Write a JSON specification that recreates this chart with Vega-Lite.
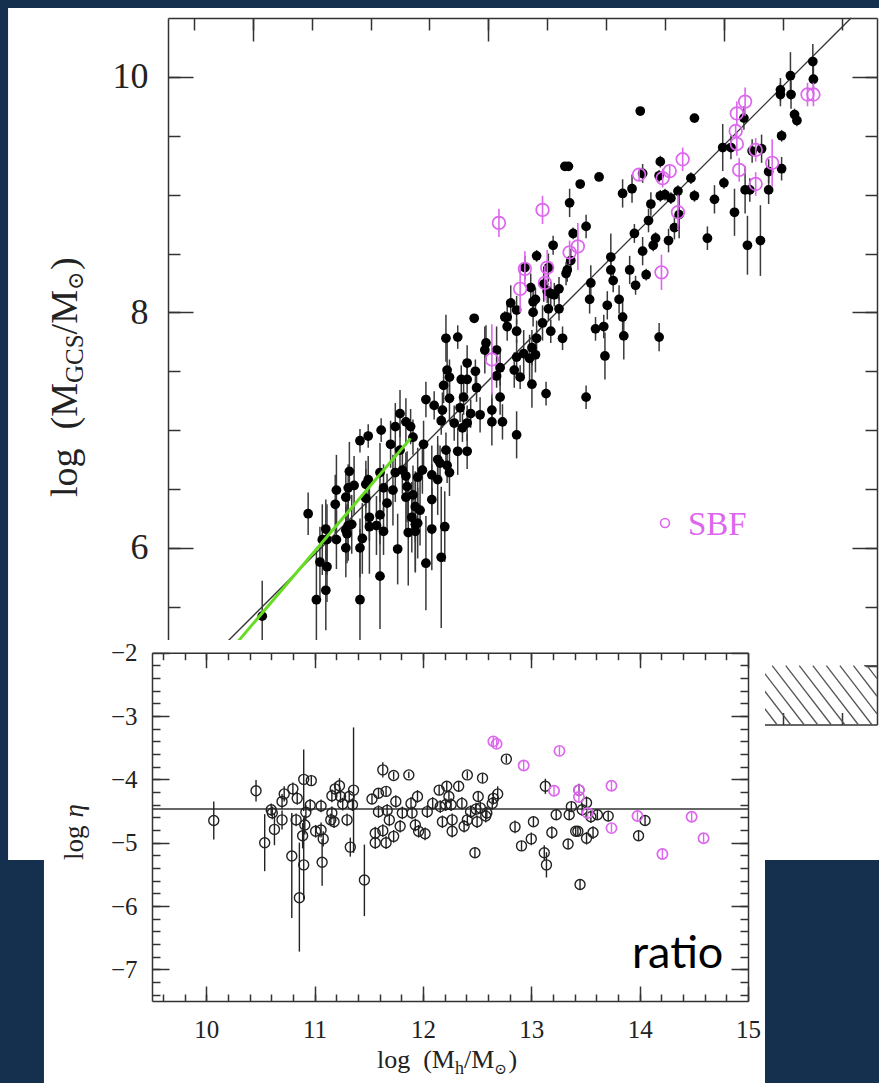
{
"$schema": "https://vega.github.io/schema/vega-lite/v6.json",
"width": 879, "height": 1083, "autosize": {"type": "none"}, "padding": 0,
"background": "white",
"config": {"view": {"stroke": null}, "axis": {"grid": false, "domainColor": "#333333", "domainWidth": 1.5, "tickColor": "#333333", "tickWidth": 1.5, "labelColor": "#222222", "labelFont": "Liberation Serif", "labelOverlap": false, "labelFlush": false}},
"data": {"values": [{}]},
"datasets": {
"tfb": [
{"x":14.755,"y":10.13,"lo":9.98,"hi":10.28},{"x":14.76,"y":9.98,"lo":9.86,"hi":10.1},{"x":14.565,"y":10.01,"lo":9.81,"hi":10.21},{"x":14.48,"y":9.89,"lo":9.79,"hi":9.99},{"x":14.57,"y":9.85,"lo":9.73,"hi":9.97},{"x":14.48,"y":9.85,"lo":9.75,"hi":9.95},{"x":14.6,"y":9.68,"lo":9.63,"hi":9.73},{"x":14.62,"y":9.63,"lo":9.58,"hi":9.68},{"x":14.49,"y":9.5,"lo":9.45,"hi":9.55},{"x":14.49,"y":9.22,"lo":9.12,"hi":9.32},
{"x":14.38,"y":9.195,"lo":9.1,"hi":9.3},{"x":14.38,"y":9.04,"lo":8.92,"hi":9.16},{"x":14.32,"y":9.39,"lo":9.27,"hi":9.51},{"x":14.24,"y":9.37,"lo":9.27,"hi":9.47},{"x":14.22,"y":9.04,"lo":8.94,"hi":9.14},{"x":14.18,"y":9.04,"lo":8.84,"hi":9.24},{"x":14.17,"y":9.65,"lo":9.55,"hi":9.75},{"x":14.06,"y":9.4,"lo":9.3,"hi":9.5},{"x":13.99,"y":9.4,"lo":9.2,"hi":9.6},{"x":14.09,"y":8.85,"lo":8.65,"hi":9.05},
{"x":14.0,"y":9.1,"lo":9.05,"hi":9.15},{"x":13.92,"y":8.96,"lo":8.84,"hi":9.08},{"x":13.75,"y":8.99,"lo":8.94,"hi":9.04},{"x":13.72,"y":9.14,"lo":9.09,"hi":9.19},{"x":13.75,"y":9.65,"lo":9.62,"hi":9.68},{"x":13.86,"y":8.63,"lo":8.53,"hi":8.73},{"x":14.2,"y":8.57,"lo":8.32,"hi":8.82},{"x":14.31,"y":8.61,"lo":8.31,"hi":8.91},{"x":13.61,"y":9.03,"lo":8.98,"hi":9.08},{"x":13.58,"y":8.72,"lo":8.62,"hi":8.82},
{"x":13.46,"y":8.99,"lo":8.94,"hi":9.04},{"x":13.55,"y":8.97,"lo":8.92,"hi":9.02},{"x":13.5,"y":9.0,"lo":8.95,"hi":9.05},{"x":13.62,"y":8.83,"lo":8.63,"hi":9.03},{"x":13.46,"y":9.28,"lo":9.23,"hi":9.33},{"x":13.45,"y":9.16,"lo":9.11,"hi":9.21},{"x":13.53,"y":8.61,"lo":8.51,"hi":8.71},{"x":13.42,"y":8.63,"lo":8.58,"hi":8.68},{"x":13.4,"y":8.57,"lo":8.52,"hi":8.62},{"x":13.38,"y":8.92,"lo":8.82,"hi":9.02},
{"x":13.36,"y":8.78,"lo":8.68,"hi":8.88},{"x":13.31,"y":8.52,"lo":8.4,"hi":8.64},{"x":13.34,"y":8.32,"lo":8.27,"hi":8.37},{"x":13.29,"y":9.71,"lo":9.68,"hi":9.74},{"x":12.65,"y":9.24,"lo":9.21,"hi":9.27},{"x":12.68,"y":9.24,"lo":9.21,"hi":9.27},{"x":12.94,"y":9.15,"lo":9.12,"hi":9.18},{"x":12.78,"y":9.09,"lo":9.06,"hi":9.12},{"x":13.14,"y":9.01,"lo":8.89,"hi":9.13},{"x":13.22,"y":9.05,"lo":8.93,"hi":9.17},
{"x":13.31,"y":9.18,"lo":9.1,"hi":9.26},{"x":12.69,"y":8.93,"lo":8.81,"hi":9.05},{"x":12.83,"y":8.73,"lo":8.63,"hi":8.83},{"x":12.72,"y":8.67,"lo":8.62,"hi":8.72},{"x":12.55,"y":8.57,"lo":8.49,"hi":8.65},{"x":12.41,"y":8.48,"lo":8.43,"hi":8.53},{"x":12.51,"y":8.38,"lo":8.26,"hi":8.5},{"x":12.67,"y":8.36,"lo":8.26,"hi":8.46},{"x":12.7,"y":8.44,"lo":8.34,"hi":8.54},{"x":13.04,"y":8.47,"lo":8.27,"hi":8.67},
{"x":13.04,"y":8.36,"lo":8.26,"hi":8.46},{"x":13.06,"y":8.27,"lo":8.17,"hi":8.37},{"x":13.24,"y":8.67,"lo":8.59,"hi":8.75},{"x":13.2,"y":8.36,"lo":8.24,"hi":8.48},{"x":13.25,"y":8.23,"lo":8.15,"hi":8.31},{"x":12.87,"y":8.25,"lo":8.1,"hi":8.4},{"x":12.86,"y":8.11,"lo":7.99,"hi":8.23},{"x":13.01,"y":8.06,"lo":7.94,"hi":8.18},{"x":13.11,"y":8.11,"lo":7.99,"hi":8.23},{"x":12.36,"y":8.21,"lo":8.09,"hi":8.33},
{"x":12.47,"y":8.24,"lo":8.09,"hi":8.39},{"x":12.66,"y":8.33,"lo":8.23,"hi":8.43},{"x":12.5,"y":8.18,"lo":8.08,"hi":8.28},{"x":12.56,"y":8.15,"lo":8.05,"hi":8.25},{"x":12.6,"y":8.2,"lo":8.1,"hi":8.3},{"x":12.19,"y":8.08,"lo":7.93,"hi":8.23},{"x":12.24,"y":8.02,"lo":7.9,"hi":8.14},{"x":11.88,"y":7.95,"lo":7.92,"hi":7.98},{"x":12.14,"y":7.96,"lo":7.91,"hi":8.01},{"x":12.38,"y":8.09,"lo":7.97,"hi":8.21},
{"x":12.51,"y":8.03,"lo":7.93,"hi":8.13},{"x":12.6,"y":8.03,"lo":7.93,"hi":8.13},{"x":12.31,"y":8.38,"lo":8.28,"hi":8.48},{"x":13.14,"y":7.96,"lo":7.81,"hi":8.11},{"x":12.91,"y":7.86,"lo":7.76,"hi":7.96},{"x":12.98,"y":7.88,"lo":7.78,"hi":7.98},{"x":13.15,"y":7.8,"lo":7.6,"hi":8.0},{"x":12.99,"y":7.63,"lo":7.43,"hi":7.83},{"x":13.45,"y":7.79,"lo":7.67,"hi":7.91},{"x":12.83,"y":7.28,"lo":7.18,"hi":7.38},
{"x":12.49,"y":7.31,"lo":7.21,"hi":7.41},{"x":12.24,"y":6.96,"lo":6.76,"hi":7.16},{"x":12.4,"y":8.11,"lo":8.01,"hi":8.21},{"x":12.53,"y":8.16,"lo":8.06,"hi":8.26},{"x":12.38,"y":8.0,"lo":7.88,"hi":8.12},{"x":12.46,"y":7.91,"lo":7.76,"hi":8.06},{"x":12.16,"y":7.96,"lo":7.84,"hi":8.08},{"x":12.16,"y":7.88,"lo":7.76,"hi":8.0},{"x":12.24,"y":7.84,"lo":7.74,"hi":7.94},{"x":12.41,"y":7.78,"lo":7.63,"hi":7.93},
{"x":12.53,"y":7.84,"lo":7.74,"hi":7.94},{"x":12.63,"y":7.78,"lo":7.68,"hi":7.88},{"x":12.37,"y":7.7,"lo":7.55,"hi":7.85},{"x":12.3,"y":7.65,"lo":7.45,"hi":7.85},{"x":12.4,"y":7.64,"lo":7.49,"hi":7.79},{"x":12.35,"y":7.61,"lo":7.41,"hi":7.81},{"x":12.24,"y":7.62,"lo":7.47,"hi":7.77},{"x":12.22,"y":7.51,"lo":7.36,"hi":7.66},{"x":12.27,"y":7.45,"lo":7.35,"hi":7.55},{"x":12.37,"y":7.39,"lo":7.19,"hi":7.59},
{"x":11.97,"y":7.68,"lo":7.48,"hi":7.88},{"x":12.07,"y":7.68,"lo":7.48,"hi":7.88},{"x":11.98,"y":7.74,"lo":7.59,"hi":7.89},{"x":12.1,"y":7.53,"lo":7.38,"hi":7.68},{"x":12.07,"y":7.46,"lo":7.36,"hi":7.56},{"x":12.1,"y":7.28,"lo":7.13,"hi":7.43},{"x":11.64,"y":7.78,"lo":7.58,"hi":7.98},{"x":11.74,"y":7.79,"lo":7.69,"hi":7.89},{"x":11.82,"y":7.57,"lo":7.42,"hi":7.72},{"x":11.89,"y":7.5,"lo":7.4,"hi":7.6},
{"x":11.65,"y":7.51,"lo":7.26,"hi":7.76},{"x":11.67,"y":7.45,"lo":7.3,"hi":7.6},{"x":11.77,"y":7.43,"lo":7.31,"hi":7.55},{"x":11.82,"y":7.43,"lo":7.31,"hi":7.55},{"x":11.62,"y":7.38,"lo":7.23,"hi":7.53},{"x":11.9,"y":7.36,"lo":7.24,"hi":7.48},{"x":11.47,"y":7.26,"lo":7.11,"hi":7.41},{"x":11.54,"y":7.21,"lo":7.09,"hi":7.33},{"x":11.67,"y":7.27,"lo":7.07,"hi":7.47},{"x":11.79,"y":7.28,"lo":7.13,"hi":7.43},
{"x":11.61,"y":7.17,"lo":7.02,"hi":7.32},{"x":11.76,"y":7.19,"lo":7.07,"hi":7.31},{"x":11.85,"y":7.14,"lo":7.02,"hi":7.26},{"x":11.93,"y":7.13,"lo":6.98,"hi":7.28},{"x":12.03,"y":7.17,"lo":7.02,"hi":7.32},{"x":11.6,"y":7.08,"lo":6.96,"hi":7.2},{"x":11.71,"y":7.06,"lo":6.91,"hi":7.21},{"x":11.82,"y":7.06,"lo":6.91,"hi":7.21},{"x":12.03,"y":7.07,"lo":6.87,"hi":7.27},{"x":12.12,"y":7.07,"lo":6.92,"hi":7.22},
{"x":11.78,"y":7.02,"lo":6.9,"hi":7.14},{"x":11.45,"y":6.88,"lo":6.68,"hi":7.08},{"x":11.64,"y":6.83,"lo":6.68,"hi":6.98},{"x":11.74,"y":6.82,"lo":6.62,"hi":7.02},{"x":11.82,"y":6.82,"lo":6.67,"hi":6.97},{"x":11.59,"y":6.72,"lo":6.57,"hi":6.87},{"x":11.65,"y":6.7,"lo":6.55,"hi":6.85},{"x":11.67,"y":6.64,"lo":6.44,"hi":6.84},{"x":10.08,"y":5.42,"lo":4.9,"hi":5.72},{"x":10.47,"y":6.29,"lo":6.11,"hi":6.47},
{"x":10.54,"y":5.56,"lo":5.1,"hi":6.0},{"x":10.62,"y":5.64,"lo":5.3,"hi":5.98},{"x":10.57,"y":5.88,"lo":5.58,"hi":6.18},{"x":10.63,"y":5.84,"lo":5.54,"hi":6.14},{"x":10.62,"y":6.16,"lo":5.91,"hi":6.41},{"x":10.59,"y":6.07,"lo":5.77,"hi":6.37},{"x":10.63,"y":6.07,"lo":5.77,"hi":6.37},{"x":10.71,"y":6.07,"lo":5.82,"hi":6.32},{"x":10.79,"y":6.0,"lo":5.75,"hi":6.25},{"x":10.79,"y":6.15,"lo":5.95,"hi":6.35},
{"x":10.81,"y":6.19,"lo":5.89,"hi":6.49},{"x":10.84,"y":6.2,"lo":5.95,"hi":6.45},{"x":10.8,"y":6.12,"lo":5.87,"hi":6.37},{"x":10.91,"y":6.0,"lo":5.75,"hi":6.25},{"x":10.93,"y":6.08,"lo":5.78,"hi":6.38},{"x":10.91,"y":5.56,"lo":4.96,"hi":6.16},{"x":11.08,"y":5.76,"lo":5.31,"hi":6.21},{"x":10.99,"y":6.18,"lo":5.78,"hi":6.58},{"x":10.99,"y":6.26,"lo":6.06,"hi":6.46},{"x":11.05,"y":6.19,"lo":5.94,"hi":6.44},
{"x":11.11,"y":6.14,"lo":5.94,"hi":6.34},{"x":11.08,"y":6.28,"lo":6.03,"hi":6.53},{"x":11.23,"y":5.99,"lo":5.69,"hi":6.29},{"x":11.32,"y":6.13,"lo":5.68,"hi":6.58},{"x":11.38,"y":6.2,"lo":5.8,"hi":6.6},{"x":11.47,"y":5.87,"lo":5.47,"hi":6.27},{"x":11.52,"y":6.16,"lo":5.81,"hi":6.51},{"x":11.6,"y":5.92,"lo":5.32,"hi":6.52},{"x":10.7,"y":6.37,"lo":6.12,"hi":6.62},{"x":10.71,"y":6.49,"lo":6.19,"hi":6.79},
{"x":10.79,"y":6.43,"lo":6.23,"hi":6.63},{"x":10.81,"y":6.51,"lo":6.31,"hi":6.71},{"x":10.82,"y":6.65,"lo":6.4,"hi":6.9},{"x":10.86,"y":6.53,"lo":6.28,"hi":6.78},{"x":10.96,"y":6.54,"lo":6.34,"hi":6.74},{"x":10.98,"y":6.58,"lo":6.38,"hi":6.78},{"x":10.96,"y":6.42,"lo":6.17,"hi":6.67},{"x":11.08,"y":6.64,"lo":6.39,"hi":6.89},{"x":11.11,"y":6.51,"lo":6.31,"hi":6.71},{"x":11.14,"y":6.38,"lo":6.13,"hi":6.63},
{"x":11.19,"y":6.49,"lo":6.19,"hi":6.79},{"x":11.21,"y":6.64,"lo":6.39,"hi":6.89},{"x":11.27,"y":6.66,"lo":6.46,"hi":6.86},{"x":11.3,"y":6.61,"lo":6.41,"hi":6.81},{"x":11.31,"y":6.52,"lo":6.22,"hi":6.82},{"x":11.36,"y":6.45,"lo":6.2,"hi":6.7},{"x":11.38,"y":6.35,"lo":6.05,"hi":6.65},{"x":11.42,"y":6.32,"lo":6.02,"hi":6.62},{"x":11.3,"y":6.43,"lo":6.13,"hi":6.73},{"x":11.35,"y":6.26,"lo":5.96,"hi":6.56},
{"x":11.4,"y":6.21,"lo":5.91,"hi":6.51},{"x":11.38,"y":6.14,"lo":5.79,"hi":6.49},{"x":10.91,"y":6.91,"lo":6.81,"hi":7.01},{"x":10.98,"y":6.95,"lo":6.85,"hi":7.05},{"x":11.09,"y":7.0,"lo":6.9,"hi":7.1},{"x":11.25,"y":7.14,"lo":6.94,"hi":7.34},{"x":11.3,"y":7.07,"lo":6.87,"hi":7.27},{"x":11.21,"y":7.03,"lo":6.83,"hi":7.23},{"x":11.34,"y":7.03,"lo":6.88,"hi":7.18},{"x":11.17,"y":6.88,"lo":6.68,"hi":7.08},
{"x":11.25,"y":6.83,"lo":6.63,"hi":7.03},{"x":11.36,"y":6.94,"lo":6.79,"hi":7.09},{"x":11.44,"y":6.66,"lo":6.46,"hi":6.86},{"x":11.4,"y":6.6,"lo":6.35,"hi":6.85},{"x":11.52,"y":6.62,"lo":6.37,"hi":6.87},{"x":11.57,"y":6.75,"lo":6.55,"hi":6.95},{"x":11.57,"y":6.58,"lo":6.28,"hi":6.88},{"x":11.52,"y":6.41,"lo":6.11,"hi":6.71},{"x":11.63,"y":6.18,"lo":5.88,"hi":6.48}
],
"tfm": [
{"x":14.71,"y":9.85,"lo":9.75,"hi":9.95},{"x":14.76,"y":9.85,"lo":9.75,"hi":9.95},{"x":14.18,"y":9.79,"lo":9.67,"hi":9.91},{"x":14.11,"y":9.69,"lo":9.59,"hi":9.79},{"x":14.1,"y":9.54,"lo":9.49,"hi":9.59},{"x":14.11,"y":9.43,"lo":9.33,"hi":9.53},{"x":14.27,"y":9.38,"lo":9.28,"hi":9.48},{"x":14.13,"y":9.21,"lo":9.11,"hi":9.31},{"x":14.41,"y":9.27,"lo":9.07,"hi":9.47},{"x":14.27,"y":9.09,"lo":8.99,"hi":9.19},
{"x":13.65,"y":9.3,"lo":9.2,"hi":9.4},{"x":13.54,"y":9.2,"lo":9.15,"hi":9.25},{"x":13.48,"y":9.14,"lo":9.06,"hi":9.22},{"x":13.61,"y":8.85,"lo":8.7,"hi":9.0},{"x":13.47,"y":8.34,"lo":8.19,"hi":8.49},{"x":12.09,"y":8.76,"lo":8.64,"hi":8.88},{"x":12.46,"y":8.87,"lo":8.75,"hi":8.99},{"x":13.28,"y":9.17,"lo":9.12,"hi":9.22},{"x":12.76,"y":8.56,"lo":8.36,"hi":8.76},{"x":12.69,"y":8.51,"lo":8.41,"hi":8.61},
{"x":12.31,"y":8.37,"lo":8.22,"hi":8.52},{"x":12.5,"y":8.38,"lo":8.23,"hi":8.53},{"x":12.48,"y":8.25,"lo":8.1,"hi":8.4},{"x":12.27,"y":8.2,"lo":8.0,"hi":8.4},{"x":12.03,"y":7.6,"lo":7.3,"hi":7.9}
],
"bfb": [
{"x":10.07,"y":-4.65,"lo":-4.95,"hi":-4.35},{"x":10.46,"y":-4.18,"lo":-4.35,"hi":-4.01},{"x":10.6,"y":-4.48,"lo":-4.58,"hi":-4.38},{"x":10.61,"y":-4.53,"lo":-4.63,"hi":-4.43},{"x":10.63,"y":-4.79,"lo":-5.04,"hi":-4.54},{"x":10.54,"y":-5.0,"lo":-5.45,"hi":-4.55},{"x":10.7,"y":-4.35,"lo":-4.47,"hi":-4.23},{"x":10.72,"y":-4.23,"lo":-4.35,"hi":-4.11},{"x":10.7,"y":-4.64,"lo":-4.79,"hi":-4.49},{"x":10.79,"y":-5.21,"lo":-6.19,"hi":-4.53},
{"x":10.8,"y":-4.15,"lo":-4.25,"hi":-4.05},{"x":10.83,"y":-4.64,"lo":-4.74,"hi":-4.54},{"x":10.84,"y":-4.3,"lo":-4.4,"hi":-4.2},{"x":10.86,"y":-5.87,"lo":-6.72,"hi":-5.0},{"x":10.9,"y":-4.0,"lo":-4.5,"hi":-3.53},{"x":10.97,"y":-4.02,"lo":-4.1,"hi":-3.94},{"x":10.96,"y":-4.41,"lo":-4.51,"hi":-4.31},{"x":10.92,"y":-4.52,"lo":-4.64,"hi":-4.4},{"x":10.91,"y":-4.72,"lo":-4.87,"hi":-4.57},{"x":10.89,"y":-4.89,"lo":-5.09,"hi":-4.69},
{"x":10.9,"y":-5.35,"lo":-5.9,"hi":-4.6},{"x":11.01,"y":-4.82,"lo":-4.92,"hi":-4.72},{"x":11.06,"y":-4.8,"lo":-4.92,"hi":-4.68},{"x":11.06,"y":-4.42,"lo":-4.52,"hi":-4.32},{"x":11.08,"y":-4.94,"lo":-5.06,"hi":-4.82},{"x":11.07,"y":-5.31,"lo":-5.68,"hi":-4.94},{"x":11.16,"y":-4.26,"lo":-4.36,"hi":-4.16},{"x":11.16,"y":-4.53,"lo":-4.63,"hi":-4.43},{"x":11.15,"y":-4.64,"lo":-4.74,"hi":-4.54},{"x":11.18,"y":-4.67,"lo":-4.77,"hi":-4.57},
{"x":11.19,"y":-4.15,"lo":-4.25,"hi":-4.05},{"x":11.23,"y":-4.1,"lo":-4.22,"hi":-3.98},{"x":11.24,"y":-4.27,"lo":-4.37,"hi":-4.17},{"x":11.26,"y":-4.39,"lo":-4.49,"hi":-4.29},{"x":11.32,"y":-4.27,"lo":-4.37,"hi":-4.17},{"x":11.3,"y":-4.64,"lo":-4.74,"hi":-4.54},{"x":11.33,"y":-5.07,"lo":-5.22,"hi":-4.92},{"x":11.35,"y":-4.4,"lo":-4.5,"hi":-4.3},{"x":11.36,"y":-4.17,"lo":-5.16,"hi":-3.18},{"x":11.46,"y":-5.59,"lo":-6.16,"hi":-5.03},
{"x":11.53,"y":-4.31,"lo":-4.39,"hi":-4.23},{"x":11.59,"y":-4.22,"lo":-4.3,"hi":-4.14},{"x":11.66,"y":-4.19,"lo":-4.27,"hi":-4.11},{"x":11.63,"y":-3.85,"lo":-3.97,"hi":-3.73},{"x":11.73,"y":-3.94,"lo":-4.0,"hi":-3.88},{"x":11.87,"y":-3.93,"lo":-3.98,"hi":-3.88},{"x":11.59,"y":-4.51,"lo":-4.61,"hi":-4.41},{"x":11.56,"y":-4.85,"lo":-4.95,"hi":-4.75},{"x":11.56,"y":-5.0,"lo":-5.1,"hi":-4.9},{"x":11.66,"y":-5.0,"lo":-5.1,"hi":-4.9},
{"x":11.63,"y":-4.81,"lo":-4.91,"hi":-4.71},{"x":11.67,"y":-4.49,"lo":-4.59,"hi":-4.39},{"x":11.69,"y":-4.64,"lo":-4.74,"hi":-4.54},{"x":11.73,"y":-4.9,"lo":-5.0,"hi":-4.8},{"x":11.75,"y":-4.35,"lo":-4.45,"hi":-4.25},{"x":11.79,"y":-4.74,"lo":-4.84,"hi":-4.64},{"x":11.81,"y":-4.53,"lo":-4.63,"hi":-4.43},{"x":11.9,"y":-4.53,"lo":-4.63,"hi":-4.43},{"x":11.89,"y":-4.38,"lo":-4.48,"hi":-4.28},{"x":11.95,"y":-4.27,"lo":-4.37,"hi":-4.17},
{"x":11.93,"y":-4.72,"lo":-4.82,"hi":-4.62},{"x":11.96,"y":-4.82,"lo":-4.92,"hi":-4.72},{"x":12.02,"y":-4.86,"lo":-4.96,"hi":-4.76},{"x":12.04,"y":-4.51,"lo":-4.61,"hi":-4.41},{"x":12.09,"y":-4.38,"lo":-4.48,"hi":-4.28},{"x":12.15,"y":-4.17,"lo":-4.25,"hi":-4.09},{"x":12.16,"y":-4.43,"lo":-4.53,"hi":-4.33},{"x":12.18,"y":-4.67,"lo":-4.77,"hi":-4.57},{"x":12.22,"y":-4.11,"lo":-4.19,"hi":-4.03},{"x":12.33,"y":-4.11,"lo":-4.19,"hi":-4.03},
{"x":12.41,"y":-3.93,"lo":-3.99,"hi":-3.87},{"x":12.55,"y":-3.98,"lo":-4.06,"hi":-3.9},{"x":12.24,"y":-4.27,"lo":-4.37,"hi":-4.17},{"x":12.21,"y":-4.4,"lo":-4.5,"hi":-4.3},{"x":12.26,"y":-4.4,"lo":-4.5,"hi":-4.3},{"x":12.36,"y":-4.38,"lo":-4.48,"hi":-4.28},{"x":12.44,"y":-4.51,"lo":-4.61,"hi":-4.41},{"x":12.49,"y":-4.47,"lo":-4.57,"hi":-4.37},{"x":12.53,"y":-4.45,"lo":-4.55,"hi":-4.35},{"x":12.59,"y":-4.53,"lo":-4.63,"hi":-4.43},
{"x":12.51,"y":-4.27,"lo":-4.35,"hi":-4.19},{"x":12.65,"y":-4.3,"lo":-4.4,"hi":-4.2},{"x":12.69,"y":-4.23,"lo":-4.35,"hi":-4.11},{"x":12.64,"y":-4.38,"lo":-4.48,"hi":-4.28},{"x":12.27,"y":-4.64,"lo":-4.74,"hi":-4.54},{"x":12.27,"y":-4.82,"lo":-4.92,"hi":-4.72},{"x":12.38,"y":-4.74,"lo":-4.84,"hi":-4.64},{"x":12.41,"y":-4.64,"lo":-4.74,"hi":-4.54},{"x":12.5,"y":-4.67,"lo":-4.77,"hi":-4.57},{"x":12.58,"y":-4.58,"lo":-4.68,"hi":-4.48},
{"x":12.48,"y":-5.16,"lo":-5.24,"hi":-5.08},{"x":12.77,"y":-3.68,"lo":-3.74,"hi":-3.62},{"x":12.85,"y":-4.75,"lo":-4.85,"hi":-4.65},{"x":13.02,"y":-4.67,"lo":-4.75,"hi":-4.59},{"x":13.0,"y":-4.94,"lo":-5.04,"hi":-4.84},{"x":12.91,"y":-5.05,"lo":-5.13,"hi":-4.97},{"x":13.13,"y":-4.11,"lo":-4.23,"hi":-3.99},{"x":13.12,"y":-5.16,"lo":-5.28,"hi":-5.04},{"x":13.14,"y":-5.35,"lo":-5.55,"hi":-5.15},{"x":13.19,"y":-4.84,"lo":-4.94,"hi":-4.74},
{"x":13.23,"y":-4.56,"lo":-4.64,"hi":-4.48},{"x":13.35,"y":-4.56,"lo":-4.64,"hi":-4.48},{"x":13.34,"y":-5.02,"lo":-5.1,"hi":-4.94},{"x":13.37,"y":-4.43,"lo":-4.51,"hi":-4.35},{"x":13.41,"y":-4.82,"lo":-4.9,"hi":-4.74},{"x":13.43,"y":-4.82,"lo":-4.9,"hi":-4.74},{"x":13.44,"y":-4.17,"lo":-4.27,"hi":-4.07},{"x":13.45,"y":-5.66,"lo":-5.74,"hi":-5.58},{"x":13.47,"y":-4.48,"lo":-4.58,"hi":-4.38},{"x":13.51,"y":-4.37,"lo":-4.47,"hi":-4.27},
{"x":13.51,"y":-4.93,"lo":-5.03,"hi":-4.83},{"x":13.57,"y":-4.84,"lo":-4.94,"hi":-4.74},{"x":13.55,"y":-4.59,"lo":-4.69,"hi":-4.49},{"x":13.61,"y":-4.56,"lo":-4.64,"hi":-4.48},{"x":13.71,"y":-4.58,"lo":-4.66,"hi":-4.5},{"x":13.99,"y":-4.89,"lo":-4.97,"hi":-4.81},{"x":14.05,"y":-4.65,"lo":-4.73,"hi":-4.57}
],
"bfm": [
{"x":12.65,"y":-3.4,"lo":-3.47,"hi":-3.33},{"x":12.68,"y":-3.44,"lo":-3.51,"hi":-3.37},{"x":12.93,"y":-3.78,"lo":-3.85,"hi":-3.71},{"x":13.26,"y":-3.55,"lo":-3.62,"hi":-3.48},{"x":13.21,"y":-4.18,"lo":-4.25,"hi":-4.11},{"x":13.44,"y":-4.17,"lo":-4.24,"hi":-4.1},{"x":13.44,"y":-4.28,"lo":-4.35,"hi":-4.21},{"x":13.52,"y":-4.53,"lo":-4.6,"hi":-4.46},{"x":13.74,"y":-4.1,"lo":-4.17,"hi":-4.03},{"x":13.74,"y":-4.77,"lo":-4.84,"hi":-4.7},
{"x":13.98,"y":-4.58,"lo":-4.65,"hi":-4.51},{"x":14.21,"y":-5.18,"lo":-5.25,"hi":-5.11},{"x":14.48,"y":-4.59,"lo":-4.66,"hi":-4.52},{"x":14.59,"y":-4.93,"lo":-5.0,"hi":-4.86}
],
"hatch": [
{"x":13.95,"y":5.0,"x2":14.335,"y2":4.5},{"x":14.065,"y":5.0,"x2":14.45,"y2":4.5},{"x":14.18,"y":5.0,"x2":14.565,"y2":4.5},{"x":14.295,"y":5.0,"x2":14.68,"y2":4.5},{"x":14.41,"y":5.0,"x2":14.795,"y2":4.5},{"x":14.525,"y":5.0,"x2":14.91,"y2":4.5},{"x":14.64,"y":5.0,"x2":15.025,"y2":4.5},{"x":14.755,"y":5.0,"x2":15.14,"y2":4.5},{"x":14.87,"y":5.0,"x2":15.255,"y2":4.5},{"x":14.985,"y":5.0,"x2":15.3,"y2":4.59},{"x":15.1,"y":5.0,"x2":15.3,"y2":4.74},{"x":15.215,"y":5.0,"x2":15.3,"y2":4.89}
],
"fit": [{"x":9.5,"y":4.92},{"x":15.08,"y":10.5}],
"green": [{"x":9.7,"y":5.0},{"x":11.34,"y":6.93}]
},
"resolve": {"scale": {"x": "independent", "y": "independent"}, "axis": {"x": "independent", "y": "independent"}},
"layer": [
{"mark": {"type": "rect", "color": "#15304f"},
 "encoding": {
  "x": {"datum": 7.5, "type": "quantitative", "scale": {"domain": [9.28, 15.3], "range": [168, 877], "nice": false, "zero": false}, "axis": {"orient": "top", "offset": -18, "values": [10, 12, 14], "tickSize": -23, "labels": false, "domain": true, "zindex": 0, "title": null}},
  "x2": {"datum": 15.6},
  "y": {"datum": 10.585, "type": "quantitative", "scale": {"domain": [4.5, 10.5], "range": [724.5, 18], "nice": false, "zero": false}, "axis": {"orient": "left", "offset": -168, "values": [6, 8, 10], "tickSize": -25, "labelPadding": 45, "labelFontSize": 36, "domain": true, "zindex": 0, "title": null}},
  "y2": {"datum": 11}}},
{"mark": {"type": "rect", "color": "#15304f"},
 "encoding": {
  "x": {"datum": 7.5, "type": "quantitative", "scale": {"domain": [9.28, 15.3], "range": [168, 877], "nice": false, "zero": false}, "axis": {"orient": "top", "offset": -18, "values": [9.5, 10, 10.5, 11, 11.5, 12, 12.5, 13, 13.5, 14, 14.5, 15], "tickSize": -12, "labels": false, "domain": false, "zindex": 0, "title": null}},
  "x2": {"datum": 7.922},
  "y": {"datum": 3.349, "type": "quantitative", "scale": {"domain": [4.5, 10.5], "range": [724.5, 18], "nice": false, "zero": false}, "axis": {"orient": "left", "offset": -168, "values": [5, 5.5, 6, 6.5, 7, 7.5, 8, 8.5, 9, 9.5, 10], "tickSize": -12, "labels": false, "domain": false, "zindex": 0, "title": null}},
  "y2": {"datum": 11}}},
{"mark": {"type": "rect", "color": "#15304f"},
 "encoding": {
  "x": {"datum": 7.5, "type": "quantitative", "scale": {"domain": [9.28, 15.3], "range": [168, 877], "nice": false, "zero": false}, "axis": {"orient": "bottom", "offset": -358.5, "values": [10, 12, 14], "tickSize": -23, "labels": false, "domain": true, "zindex": 0, "title": null}},
  "x2": {"datum": 8.227},
  "y": {"datum": 1.0, "type": "quantitative", "scale": {"domain": [4.5, 10.5], "range": [724.5, 18], "nice": false, "zero": false}, "axis": {"orient": "right", "offset": -2, "values": [6, 8, 10], "tickSize": -25, "labels": false, "domain": true, "zindex": 0, "title": null}},
  "y2": {"datum": 3.349}}},
{"mark": {"type": "rect", "color": "#15304f"},
 "encoding": {
  "x": {"datum": 14.349, "type": "quantitative", "scale": {"domain": [9.28, 15.3], "range": [168, 877], "nice": false, "zero": false}, "axis": {"orient": "bottom", "offset": -358.5, "values": [9.5, 10, 10.5, 11, 11.5, 12, 12.5, 13, 13.5, 14, 14.5, 15], "tickSize": -12, "labels": false, "domain": false, "zindex": 0, "title": null}},
  "x2": {"datum": 15.6},
  "y": {"datum": 1.0, "type": "quantitative", "scale": {"domain": [4.5, 10.5], "range": [724.5, 18], "nice": false, "zero": false}, "axis": {"orient": "right", "offset": -2, "values": [5, 5.5, 6, 6.5, 7, 7.5, 8, 8.5, 9, 9.5, 10], "tickSize": -12, "labels": false, "domain": false, "zindex": 0, "title": null}},
  "y2": {"datum": 3.349}}},
{"data": {"name": "hatch"}, "mark": {"type": "rule", "color": "#555555", "strokeWidth": 1.3},
 "encoding": {
  "x": {"field": "x", "type": "quantitative", "scale": {"domain": [9.28, 15.3], "range": [168, 877], "nice": false, "zero": false}, "axis": null},
  "x2": {"field": "x2"},
  "y": {"field": "y", "type": "quantitative", "scale": {"domain": [4.5, 10.5], "range": [724.5, 18], "nice": false, "zero": false}, "axis": null},
  "y2": {"field": "y2"}}},
{"mark": {"type": "rule", "color": "#555555", "strokeWidth": 1.3},
 "encoding": {
  "x": {"datum": 15.19, "type": "quantitative", "scale": {"domain": [9.28, 15.3], "range": [168, 877], "nice": false, "zero": false}, "axis": null},
  "x2": {"datum": 15.3},
  "y": {"datum": 5.0, "type": "quantitative", "scale": {"domain": [4.5, 10.5], "range": [724.5, 18], "nice": false, "zero": false}, "axis": null}}},
{"data": {"name": "tfb"}, "mark": {"type": "rule", "color": "#3a3a3a", "strokeWidth": 1.5},
 "encoding": {
  "x": {"field": "x", "type": "quantitative", "scale": {"domain": [9.28, 15.3], "range": [168, 877], "nice": false, "zero": false}, "axis": null},
  "y": {"field": "lo", "type": "quantitative", "scale": {"domain": [4.5, 10.5], "range": [724.5, 18], "nice": false, "zero": false}, "axis": null},
  "y2": {"field": "hi"}}},
{"data": {"name": "fit"}, "mark": {"type": "line", "color": "#333333", "strokeWidth": 1.3},
 "encoding": {
  "x": {"field": "x", "type": "quantitative", "scale": {"domain": [9.28, 15.3], "range": [168, 877], "nice": false, "zero": false}, "axis": null},
  "y": {"field": "y", "type": "quantitative", "scale": {"domain": [4.5, 10.5], "range": [724.5, 18], "nice": false, "zero": false}, "axis": null}}},
{"data": {"name": "tfb"}, "mark": {"type": "circle", "color": "#000000", "opacity": 1, "size": 95},
 "encoding": {
  "x": {"field": "x", "type": "quantitative", "scale": {"domain": [9.28, 15.3], "range": [168, 877], "nice": false, "zero": false}, "axis": null},
  "y": {"field": "y", "type": "quantitative", "scale": {"domain": [4.5, 10.5], "range": [724.5, 18], "nice": false, "zero": false}, "axis": null}}},
{"data": {"name": "tfm"}, "mark": {"type": "rule", "color": "#dd66ee", "strokeWidth": 1.6},
 "encoding": {
  "x": {"field": "x", "type": "quantitative", "scale": {"domain": [9.28, 15.3], "range": [168, 877], "nice": false, "zero": false}, "axis": null},
  "y": {"field": "lo", "type": "quantitative", "scale": {"domain": [4.5, 10.5], "range": [724.5, 18], "nice": false, "zero": false}, "axis": null},
  "y2": {"field": "hi"}}},
{"data": {"name": "tfm"}, "mark": {"type": "point", "shape": "circle", "filled": false, "color": "#dd66ee", "opacity": 1, "size": 160, "strokeWidth": 1.7},
 "encoding": {
  "x": {"field": "x", "type": "quantitative", "scale": {"domain": [9.28, 15.3], "range": [168, 877], "nice": false, "zero": false}, "axis": null},
  "y": {"field": "y", "type": "quantitative", "scale": {"domain": [4.5, 10.5], "range": [724.5, 18], "nice": false, "zero": false}, "axis": null}}},
{"data": {"name": "green"}, "mark": {"type": "line", "color": "#66dd22", "strokeWidth": 3},
 "encoding": {
  "x": {"field": "x", "type": "quantitative", "scale": {"domain": [9.28, 15.3], "range": [168, 877], "nice": false, "zero": false}, "axis": null},
  "y": {"field": "y", "type": "quantitative", "scale": {"domain": [4.5, 10.5], "range": [724.5, 18], "nice": false, "zero": false}, "axis": null}}},
{"mark": {"type": "point", "shape": "circle", "filled": false, "color": "#dd66ee", "opacity": 1, "size": 80, "strokeWidth": 1.6},
 "encoding": {
  "x": {"datum": 13.5, "type": "quantitative", "scale": {"domain": [9.28, 15.3], "range": [168, 877], "nice": false, "zero": false}, "axis": null},
  "y": {"datum": 6.211, "type": "quantitative", "scale": {"domain": [4.5, 10.5], "range": [724.5, 18], "nice": false, "zero": false}, "axis": null}}},
{"mark": {"type": "text", "text": "SBF", "font": "Liberation Serif", "fontSize": 33, "color": "#dd66ee", "align": "left", "baseline": "alphabetic"},
 "encoding": {
  "x": {"datum": 13.695, "type": "quantitative", "scale": {"domain": [9.28, 15.3], "range": [168, 877], "nice": false, "zero": false}, "axis": null},
  "y": {"datum": 6.109, "type": "quantitative", "scale": {"domain": [4.5, 10.5], "range": [724.5, 18], "nice": false, "zero": false}, "axis": null}}},
{"mark": {"type": "text", "text": "log\u00a0\u00a0(M", "font": "Liberation Serif", "fontSize": 38, "color": "#222222", "align": "left", "baseline": "alphabetic", "angle": 270},
 "encoding": {
  "x": {"datum": 8.507, "type": "quantitative", "scale": {"domain": [9.28, 15.3], "range": [168, 877], "nice": false, "zero": false}, "axis": null},
  "y": {"datum": 6.432, "type": "quantitative", "scale": {"domain": [4.5, 10.5], "range": [724.5, 18], "nice": false, "zero": false}, "axis": null}}},
{"mark": {"type": "text", "text": "GCS", "font": "Liberation Serif", "fontSize": 25, "color": "#222222", "align": "left", "baseline": "alphabetic", "angle": 270},
 "encoding": {
  "x": {"datum": 8.558, "type": "quantitative", "scale": {"domain": [9.28, 15.3], "range": [168, 877], "nice": false, "zero": false}, "axis": null},
  "y": {"datum": 7.4, "type": "quantitative", "scale": {"domain": [4.5, 10.5], "range": [724.5, 18], "nice": false, "zero": false}, "axis": null}}},
{"mark": {"type": "text", "text": "/M", "font": "Liberation Serif", "fontSize": 38, "color": "#222222", "align": "left", "baseline": "alphabetic", "angle": 270},
 "encoding": {
  "x": {"datum": 8.507, "type": "quantitative", "scale": {"domain": [9.28, 15.3], "range": [168, 877], "nice": false, "zero": false}, "axis": null},
  "y": {"datum": 7.813, "type": "quantitative", "scale": {"domain": [4.5, 10.5], "range": [724.5, 18], "nice": false, "zero": false}, "axis": null}}},
{"mark": {"type": "text", "text": "⊙", "font": "DejaVu Serif", "fontSize": 22, "color": "#222222", "align": "left", "baseline": "alphabetic", "angle": 270},
 "encoding": {
  "x": {"datum": 8.558, "type": "quantitative", "scale": {"domain": [9.28, 15.3], "range": [168, 877], "nice": false, "zero": false}, "axis": null},
  "y": {"datum": 8.189, "type": "quantitative", "scale": {"domain": [4.5, 10.5], "range": [724.5, 18], "nice": false, "zero": false}, "axis": null}}},
{"mark": {"type": "text", "text": ")", "font": "Liberation Serif", "fontSize": 38, "color": "#222222", "align": "left", "baseline": "alphabetic", "angle": 270},
 "encoding": {
  "x": {"datum": 8.507, "type": "quantitative", "scale": {"domain": [9.28, 15.3], "range": [168, 877], "nice": false, "zero": false}, "axis": null},
  "y": {"datum": 8.36, "type": "quantitative", "scale": {"domain": [4.5, 10.5], "range": [724.5, 18], "nice": false, "zero": false}, "axis": null}}},
{"mark": {"type": "rect", "color": "#ffffff"},
 "encoding": {
  "x": {"datum": 8.227, "type": "quantitative", "scale": {"domain": [9.28, 15.3], "range": [168, 877], "nice": false, "zero": false}, "axis": null},
  "x2": {"datum": 14.349},
  "y": {"datum": 1.0, "type": "quantitative", "scale": {"domain": [4.5, 10.5], "range": [724.5, 18], "nice": false, "zero": false}, "axis": null},
  "y2": {"datum": 5.218}}},
{"mark": {"type": "rule", "color": "#333333", "strokeWidth": 1.5},
 "encoding": {
  "x": {"datum": 9.5, "type": "quantitative", "scale": {"domain": [9.5, 15], "range": [152, 748], "nice": false, "zero": false}, "axis": null},
  "x2": {"datum": 15},
  "y": {"datum": -4.47, "type": "quantitative", "scale": {"domain": [-7.5, -2], "range": [1001, 652.7], "nice": false, "zero": false}, "axis": null}}},
{"data": {"name": "bfb"}, "mark": {"type": "rule", "color": "#222222", "strokeWidth": 1.4},
 "encoding": {
  "x": {"field": "x", "type": "quantitative", "scale": {"domain": [9.5, 15], "range": [152, 748], "nice": false, "zero": false}, "axis": {"orient": "bottom", "offset": -82, "values": [10, 11, 12, 13, 14, 15], "tickSize": -15, "labelPadding": 31, "labelFontSize": 25, "domain": true, "zindex": 1, "title": null}},
  "y": {"field": "lo", "type": "quantitative", "scale": {"domain": [-7.5, -2], "range": [1001, 652.7], "nice": false, "zero": false}, "axis": {"orient": "left", "offset": -152, "values": [-7, -6, -5, -4, -3, -2], "tickSize": -17, "labelPadding": 32, "labelFontSize": 25, "domain": true, "zindex": 1, "title": null}},
  "y2": {"field": "hi"}}},
{"data": {"name": "bfb"}, "mark": {"type": "point", "shape": "circle", "filled": false, "color": "#222222", "opacity": 1, "size": 100, "strokeWidth": 1.4},
 "encoding": {
  "x": {"field": "x", "type": "quantitative", "scale": {"domain": [9.5, 15], "range": [152, 748], "nice": false, "zero": false}, "axis": {"orient": "bottom", "offset": -82, "values": [9.6, 9.8, 10, 10.2, 10.4, 10.6, 10.8, 11, 11.2, 11.4, 11.6, 11.8, 12, 12.2, 12.4, 12.6, 12.8, 13, 13.2, 13.4, 13.6, 13.8, 14, 14.2, 14.4, 14.6, 14.8], "tickSize": -7, "labels": false, "domain": false, "zindex": 1, "title": null}},
  "y": {"field": "y", "type": "quantitative", "scale": {"domain": [-7.5, -2], "range": [1001, 652.7], "nice": false, "zero": false}, "axis": {"orient": "left", "offset": -152, "values": [-7.4, -7.2, -7, -6.8, -6.6, -6.4, -6.2, -6, -5.8, -5.6, -5.4, -5.2, -5, -4.8, -4.6, -4.4, -4.2, -4, -3.8, -3.6, -3.4, -3.2, -3, -2.8, -2.6, -2.4, -2.2], "tickSize": -8, "labels": false, "domain": false, "zindex": 1, "title": null}}}},
{"data": {"name": "bfm"}, "mark": {"type": "rule", "color": "#dd66ee", "strokeWidth": 1.4},
 "encoding": {
  "x": {"field": "x", "type": "quantitative", "scale": {"domain": [9.5, 15], "range": [152, 748], "nice": false, "zero": false}, "axis": {"orient": "top", "offset": -652.7, "values": [10, 11, 12, 13, 14, 15], "tickSize": -15, "labels": false, "domain": true, "zindex": 1, "title": null}},
  "y": {"field": "lo", "type": "quantitative", "scale": {"domain": [-7.5, -2], "range": [1001, 652.7], "nice": false, "zero": false}, "axis": {"orient": "right", "offset": -131, "values": [-7, -6, -5, -4, -3, -2], "tickSize": -17, "labels": false, "domain": true, "zindex": 1, "title": null}},
  "y2": {"field": "hi"}}},
{"data": {"name": "bfm"}, "mark": {"type": "point", "shape": "circle", "filled": false, "color": "#dd66ee", "opacity": 1, "size": 105, "strokeWidth": 1.7},
 "encoding": {
  "x": {"field": "x", "type": "quantitative", "scale": {"domain": [9.5, 15], "range": [152, 748], "nice": false, "zero": false}, "axis": {"orient": "top", "offset": -652.7, "values": [9.6, 9.8, 10, 10.2, 10.4, 10.6, 10.8, 11, 11.2, 11.4, 11.6, 11.8, 12, 12.2, 12.4, 12.6, 12.8, 13, 13.2, 13.4, 13.6, 13.8, 14, 14.2, 14.4, 14.6, 14.8], "tickSize": -7, "labels": false, "domain": false, "zindex": 1, "title": null}},
  "y": {"field": "y", "type": "quantitative", "scale": {"domain": [-7.5, -2], "range": [1001, 652.7], "nice": false, "zero": false}, "axis": {"orient": "right", "offset": -131, "values": [-7.4, -7.2, -7, -6.8, -6.6, -6.4, -6.2, -6, -5.8, -5.6, -5.4, -5.2, -5, -4.8, -4.6, -4.4, -4.2, -4, -3.8, -3.6, -3.4, -3.2, -3, -2.8, -2.6, -2.4, -2.2], "tickSize": -8, "labels": false, "domain": false, "zindex": 1, "title": null}}}},
{"mark": {"type": "text", "text": "ratio", "font": "Lato", "fontSize": 45, "color": "#000000", "align": "left", "baseline": "alphabetic"},
 "encoding": {
  "x": {"datum": 13.93, "type": "quantitative", "scale": {"domain": [9.5, 15], "range": [152, 748], "nice": false, "zero": false}, "axis": null},
  "y": {"datum": -6.979, "type": "quantitative", "scale": {"domain": [-7.5, -2], "range": [1001, 652.7], "nice": false, "zero": false}, "axis": null}}},
{"mark": {"type": "text", "text": "log\u00a0\u00a0(M", "font": "Liberation Serif", "fontSize": 26, "color": "#222222", "align": "left", "baseline": "alphabetic"},
 "encoding": {
  "x": {"datum": 11.576, "type": "quantitative", "scale": {"domain": [9.5, 15], "range": [152, 748], "nice": false, "zero": false}, "axis": null},
  "y": {"datum": -8.558, "type": "quantitative", "scale": {"domain": [-7.5, -2], "range": [1001, 652.7], "nice": false, "zero": false}, "axis": null}}},
{"mark": {"type": "text", "text": "h", "font": "Liberation Serif", "fontSize": 18, "color": "#222222", "align": "left", "baseline": "alphabetic"},
 "encoding": {
  "x": {"datum": 12.296, "type": "quantitative", "scale": {"domain": [9.5, 15], "range": [152, 748], "nice": false, "zero": false}, "axis": null},
  "y": {"datum": -8.653, "type": "quantitative", "scale": {"domain": [-7.5, -2], "range": [1001, 652.7], "nice": false, "zero": false}, "axis": null}}},
{"mark": {"type": "text", "text": "/M", "font": "Liberation Serif", "fontSize": 26, "color": "#222222", "align": "left", "baseline": "alphabetic"},
 "encoding": {
  "x": {"datum": 12.379, "type": "quantitative", "scale": {"domain": [9.5, 15], "range": [152, 748], "nice": false, "zero": false}, "axis": null},
  "y": {"datum": -8.558, "type": "quantitative", "scale": {"domain": [-7.5, -2], "range": [1001, 652.7], "nice": false, "zero": false}, "axis": null}}},
{"mark": {"type": "text", "text": "⊙", "font": "DejaVu Serif", "fontSize": 15, "color": "#222222", "align": "left", "baseline": "alphabetic"},
 "encoding": {
  "x": {"datum": 12.659, "type": "quantitative", "scale": {"domain": [9.5, 15], "range": [152, 748], "nice": false, "zero": false}, "axis": null},
  "y": {"datum": -8.653, "type": "quantitative", "scale": {"domain": [-7.5, -2], "range": [1001, 652.7], "nice": false, "zero": false}, "axis": null}}},
{"mark": {"type": "text", "text": ")", "font": "Liberation Serif", "fontSize": 26, "color": "#222222", "align": "left", "baseline": "alphabetic"},
 "encoding": {
  "x": {"datum": 12.791, "type": "quantitative", "scale": {"domain": [9.5, 15], "range": [152, 748], "nice": false, "zero": false}, "axis": null},
  "y": {"datum": -8.558, "type": "quantitative", "scale": {"domain": [-7.5, -2], "range": [1001, 652.7], "nice": false, "zero": false}, "axis": null}}},
{"mark": {"type": "text", "text": "log", "font": "Liberation Serif", "fontSize": 27, "color": "#222222", "align": "left", "baseline": "alphabetic", "angle": 270},
 "encoding": {
  "x": {"datum": 8.863, "type": "quantitative", "scale": {"domain": [9.5, 15], "range": [152, 748], "nice": false, "zero": false}, "axis": null},
  "y": {"datum": -5.274, "type": "quantitative", "scale": {"domain": [-7.5, -2], "range": [1001, 652.7], "nice": false, "zero": false}, "axis": null}}},
{"mark": {"type": "text", "text": "η", "font": "Liberation Serif", "fontStyle": "italic", "fontSize": 27, "color": "#222222", "align": "left", "baseline": "alphabetic", "angle": 270},
 "encoding": {
  "x": {"datum": 8.863, "type": "quantitative", "scale": {"domain": [9.5, 15], "range": [152, 748], "nice": false, "zero": false}, "axis": null},
  "y": {"datum": -4.603, "type": "quantitative", "scale": {"domain": [-7.5, -2], "range": [1001, 652.7], "nice": false, "zero": false}, "axis": null}}}
]
}
